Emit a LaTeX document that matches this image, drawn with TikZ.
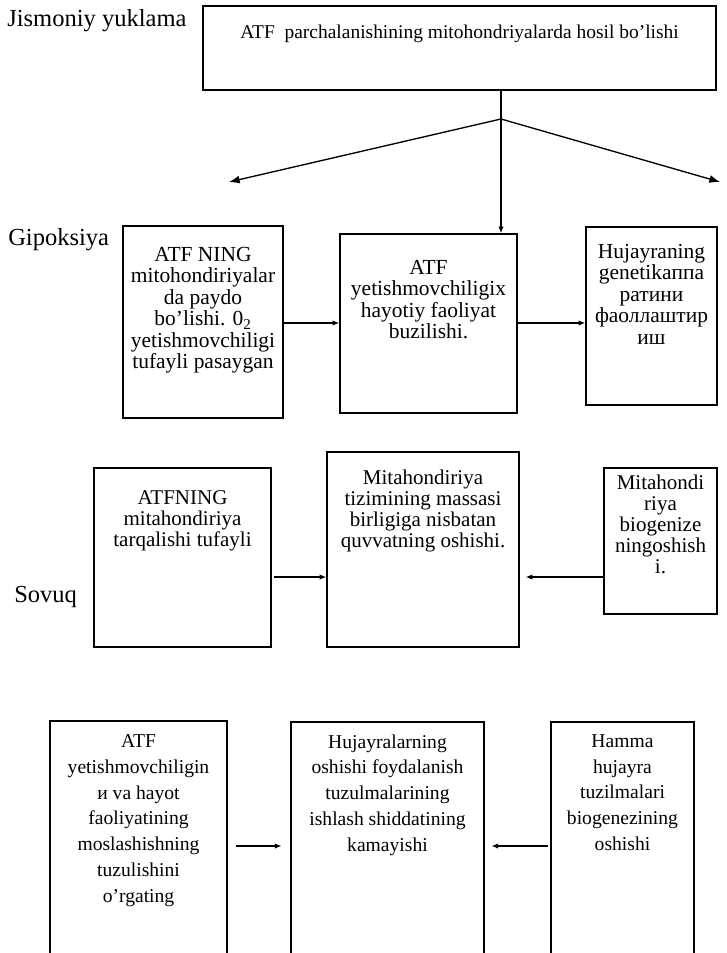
\documentclass[tikz,border=0pt]{standalone}
\usepackage{fontspec}
\setmainfont{Liberation Serif}
\usetikzlibrary{arrows.meta, positioning, fit, calc}

\begin{document}
\begin{tikzpicture}[
    x=0.75pt, y=-0.75pt,
    box/.style={draw, line width=1.1pt, inner sep=0pt},
    txt/.style={align=center, inner sep=0pt, anchor=north},
    lbl/.style={anchor=west, inner sep=0pt, font=\fontsize{18.4}{22}\selectfont},
    toptxt/.style={txt, font=\fontsize{14.6}{17}\selectfont},
    rowa/.style={txt, font=\fontsize{16.1}{16.1}\selectfont},
    rowb/.style={txt, font=\fontsize{15.75}{15.75}\selectfont},
    rowc/.style={txt, font=\fontsize{14.7}{19.35}\selectfont},
    arrow/.style={-{Latex[length=5pt,width=4pt]}, line width=0.9pt},
    bigarrow/.style={-{Latex[length=8pt,width=6pt]}, line width=1pt}
]
\useasboundingbox (0,0) rectangle (726,953);
\clip (0,0) rectangle (726,953);

% side labels
\node[lbl] (jism) at (7,21) {Jismoniy yuklama};
\node[lbl] (gipo) at (8,240) {Gipoksiya};
\node[lbl] (sovuq) at (14,597) {Sovuq};

% top box
\node[box, fit={(203,6) (716,90)}] (top) {};
\node[toptxt] (topt) at ($(top.north)+(0,19)$) {ATF~ parchalanishining mitohondriyalarda hosil bo'lishi};

% row 2
\node[box, fit={(123,226) (283,418)}] (l2) {};
\node[box, fit={(340,234) (517,413)}] (m2) {};
\node[box, fit={(586,227) (717,405)}] (r2) {};
\node[rowa] (l2t) at ($(l2.north)+(0,21.5)$) {ATF NING\\mitohondiriyalar\\da paydo\\bo'lishi. 0\textsubscript{2}\\yetishmovchiligi\\tufayli pasaygan};
\node[rowa] (m2t) at ($(m2.north)+(0,26.5)$) {ATF\\yetishmovchiligix\\hayotiy faoliyat\\buzilishi.};
\node[rowa] (r2t) at ($(r2.north)+(0,17.5)$) {Hujayraning\\genetikaппа\\ратини\\фаоллаштир\\иш};

% row 3
\node[box, fit={(94,468) (271,647)}] (l3) {};
\node[box, fit={(327,452) (519,647)}] (m3) {};
\node[box, fit={(604,468) (717,614)}] (r3) {};
\node[rowb] (l3t) at ($(l3.north)+(0,23)$) {ATFNING\\mitahondiriya\\tarqalishi tufayli};
\node[rowb] (m3t) at ($(m3.north)+(0,18)$) {Mitahondiriya\\tizimining massasi\\birligiga nisbatan\\quvvatning oshishi.};
\node[rowb] (r3t) at ($(r3.north)+(0,7)$) {Mitahondi\\riya\\biogenize\\ningoshish\\i.};

% row 4 (boxes run off the page)
\node[box, fit={(50,721) (227,990)}] (l4) {};
\node[box, fit={(291,722) (484,990)}] (m4) {};
\node[box, fit={(551,722) (694,990)}] (r4) {};
\node[rowc] (l4t) at ($(l4.north)+(0,14)$) {ATF\\yetishmovchiligin\\и va hayot\\faoliyatining\\moslashishning\\tuzulishini\\o'rgating};
\node[rowc] (m4t) at ($(m4.north)+(0,13)$) {Hujayralarning\\oshishi foydalanish\\tuzulmalarining\\ishlash shiddatining\\kamayishi};
\node[rowc] (r4t) at ($(r4.north)+(0,13)$) {Hamma\\hujayra\\tuzilmalari\\biogenezining\\oshishi};

% connectors
\coordinate (split) at (501,119);
\coordinate (tipL) at (229,182);
\coordinate (tipR) at (720,182);
\coordinate (a2) at (0,323);
\coordinate (a3) at (0,577);
\coordinate (a4) at (0,846);
\draw[line width=1pt] (top.south -| split) -- (split);
\draw[bigarrow] (split) -- (tipL);
\draw[bigarrow] (split) -- (tipR);
\draw[arrow] (split) -- (m2.north -| split);
\draw[arrow] (l2.east |- a2) -- (m2.west |- a2);
\draw[arrow] (m2.east |- a2) -- (r2.west |- a2);
\draw[arrow, shorten <=2pt] (l3.east |- a3) -- (m3.west |- a3);
\draw[arrow, shorten >=4.5pt] (r3.west |- a3) -- (m3.east |- a3);
\draw[arrow, shorten <=6.5pt, shorten >=6.5pt] (l4.east |- a4) -- (m4.west |- a4);
\draw[arrow, shorten <=1.5pt, shorten >=5pt] (r4.west |- a4) -- (m4.east |- a4);
\end{tikzpicture}
\end{document}
